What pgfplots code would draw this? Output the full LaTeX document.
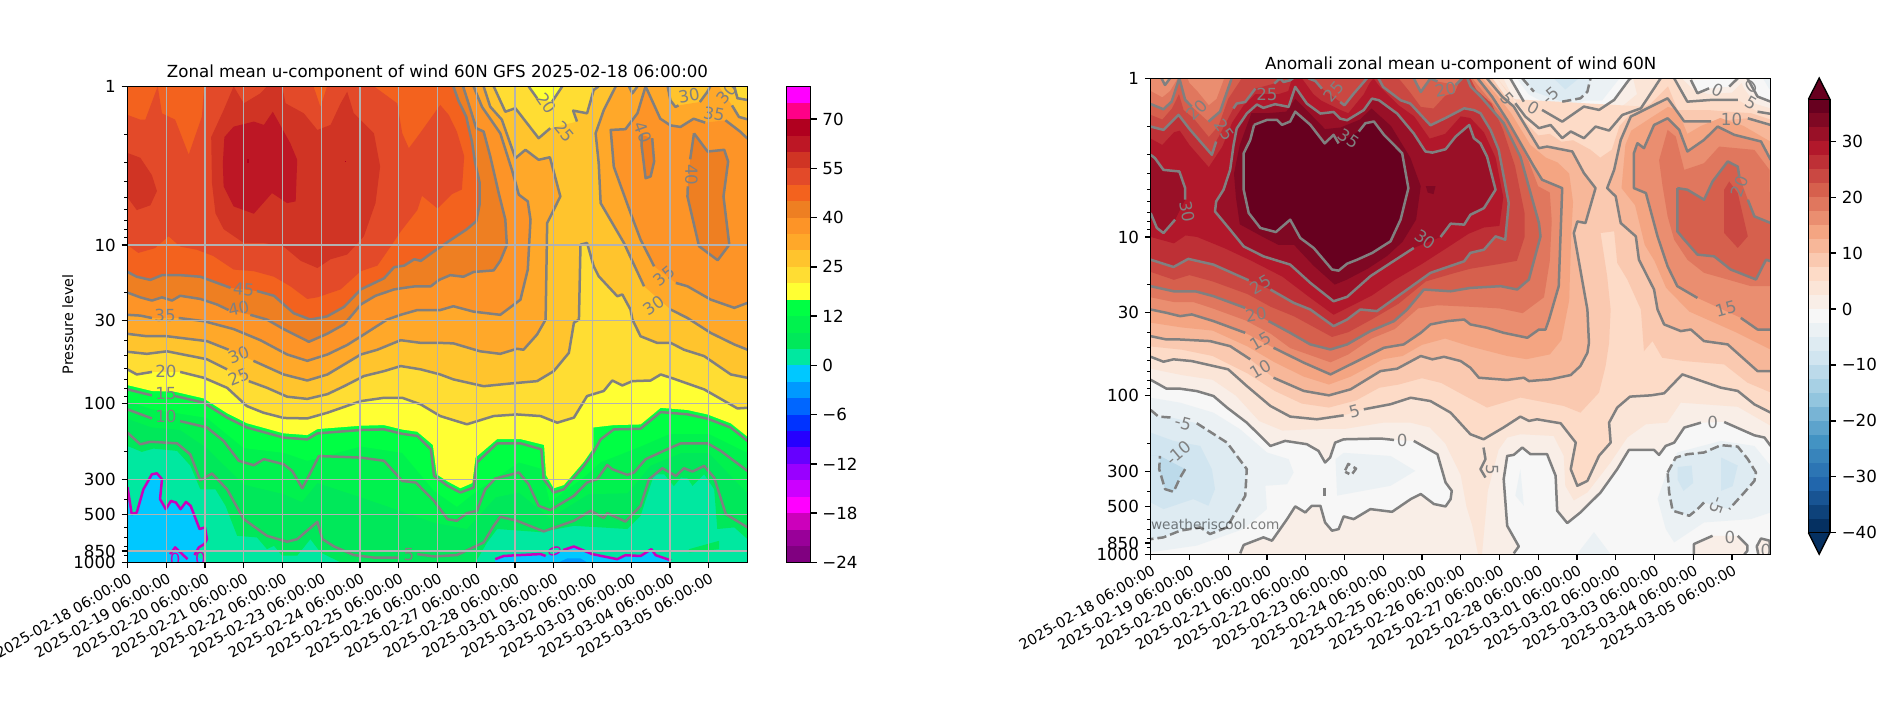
\documentclass[border=0pt]{standalone}
\usepackage{fontspec}
\setmainfont{DejaVu Sans}
\usepackage{pgfplots}
\pgfplotsset{compat=1.18}

% left colour bar, bottom to top
\definecolor{a0}{HTML}{800080}\definecolor{a1}{HTML}{990099}\definecolor{a2}{HTML}{CC00BB}
\definecolor{a3}{HTML}{FF00FF}\definecolor{a4}{HTML}{CC00FF}\definecolor{a5}{HTML}{9900FF}
\definecolor{a6}{HTML}{6600FF}\definecolor{a7}{HTML}{2600FF}\definecolor{a8}{HTML}{0033FF}
\definecolor{a9}{HTML}{0066FF}\definecolor{a10}{HTML}{0099FF}\definecolor{a11}{HTML}{00C8FF}
\definecolor{a12}{HTML}{00E8A0}\definecolor{a13}{HTML}{00E85A}\definecolor{a14}{HTML}{00F24E}
\definecolor{a15}{HTML}{00FF44}\definecolor{a16}{HTML}{FFFF33}\definecolor{a17}{HTML}{FFDD33}
\definecolor{a18}{HTML}{FFC42D}\definecolor{a19}{HTML}{FFA829}\definecolor{a20}{HTML}{FD9427}
\definecolor{a21}{HTML}{EE7F22}\definecolor{a22}{HTML}{F3621E}\definecolor{a23}{HTML}{E34A29}
\definecolor{a24}{HTML}{D03424}\definecolor{a25}{HTML}{BD1725}\definecolor{a26}{HTML}{B0001F}
\definecolor{a27}{HTML}{FF0088}\definecolor{a28}{HTML}{FF00FF}
% right colour bar, bottom to top
\definecolor{r0}{HTML}{053061}\definecolor{r1}{HTML}{0E427A}\definecolor{r2}{HTML}{185493}
\definecolor{r3}{HTML}{2166AC}\definecolor{r4}{HTML}{2C75B4}\definecolor{r5}{HTML}{3884BB}
\definecolor{r6}{HTML}{4393C3}\definecolor{r7}{HTML}{5DA3CC}\definecolor{r8}{HTML}{78B4D5}
\definecolor{r9}{HTML}{92C5DE}\definecolor{r10}{HTML}{A7D0E4}\definecolor{r11}{HTML}{BCDAEA}
\definecolor{r12}{HTML}{D1E5F0}\definecolor{r13}{HTML}{DEEBF2}\definecolor{r14}{HTML}{EBF1F4}
\definecolor{r15}{HTML}{F7F7F7}\definecolor{r16}{HTML}{F9EEE7}\definecolor{r17}{HTML}{FBE5D7}
\definecolor{r18}{HTML}{FDDBC7}\definecolor{r19}{HTML}{FAC9B0}\definecolor{r20}{HTML}{F7B799}
\definecolor{r21}{HTML}{F4A582}\definecolor{r22}{HTML}{EA8E70}\definecolor{r23}{HTML}{E0775E}
\definecolor{r24}{HTML}{D6604D}\definecolor{r25}{HTML}{CA4842}\definecolor{r26}{HTML}{BE3036}
\definecolor{r27}{HTML}{B2182B}\definecolor{r28}{HTML}{991027}\definecolor{r29}{HTML}{7F0823}
\definecolor{r30}{HTML}{67001F}

\newcommand\pltx[2]{\addplot[#2] coordinates {#1};}
\newcommand\plt[2]{\expandafter\pltx\expandafter{#1}{#2}}
\newcommand\lb[4]{\node[font=\fontsize{10pt}{12pt}\selectfont,text=gray,inner sep=0pt,rotate=#3] at (axis cs:#1,#2) {#4};}
\newcommand\seg[3]{\addplot[fill=#3,draw=none] coordinates {(0,#1)(1,#1)(1,#2)(0,#2)};}

\pgfplotsset{
  fl/.style={fill=#1,draw=none,unbounded coords=discard,filter discard warning=false},
  cont/.style={draw=gray,line width=1.5pt,line join=round,unbounded coords=jump},
  neg/.style={cont,dash pattern=on 5.5pt off 2.4pt},
  mag/.style={draw=a2,line width=1.5pt,line join=round,unbounded coords=jump},
  panel/.style={
    scale only axis,width=372pt,height=285.6pt,
    xmin=0,xmax=16,ymin=0,ymax=3,y dir=reverse,axis on top,
    xtick={0,...,15},
    xticklabels={2025-02-18 06:00:00,2025-02-19 06:00:00,2025-02-20 06:00:00,2025-02-21 06:00:00,2025-02-22 06:00:00,2025-02-23 06:00:00,2025-02-24 06:00:00,2025-02-25 06:00:00,2025-02-26 06:00:00,2025-02-27 06:00:00,2025-02-28 06:00:00,2025-03-01 06:00:00,2025-03-02 06:00:00,2025-03-03 06:00:00,2025-03-04 06:00:00,2025-03-05 06:00:00},
    xticklabel style={font=\fontsize{8.7pt}{10pt}\selectfont,rotate=30,anchor=north east,inner sep=1pt,yshift=-1pt},
    % y is log10 of the pressure level
    ytick={0,1,1.477,2,2.477,2.699,2.929,3},
    yticklabels={1,10,30,100,300,500,850,1000},
    minor ytick={.301,.477,.602,.699,.778,.845,.903,.954,1.301,1.602,1.699,1.778,1.845,1.903,1.954,2.301,2.602,2.778,2.845,2.903,2.954},
    xtick pos=bottom,ytick pos=left,tick align=outside,
    major tick length=3.5pt,minor tick length=2pt,
    every tick/.append style={black,line width=.8pt},
    every minor tick/.append style={black,line width=.6pt},
    axis line style={line width=.8pt},
    title style={font=\fontsize{10pt}{12pt}\selectfont,inner sep=0pt,anchor=base,at={(0.5,1)},yshift=-1pt},
  },
  cbar/.style={
    scale only axis,xmin=0,xmax=1,xtick=\empty,axis on top,
    ytick pos=right,yticklabel pos=right,tick align=outside,
    major tick length=3.5pt,every tick/.append style={black,line width=.8pt},
    axis line style={line width=.8pt},
  },
}

% ---- left panel: level boundaries (day, log10 p)
\def\lcyanA{(0,2.527)(.11,2.696)(.24,2.686)(.41,2.54)(.63,2.445)(.76,2.439)(.89,2.476)(.84,2.602)(.99,2.665)(1.12,2.613)(1.25,2.623)(1.37,2.665)(1.51,2.619)(1.63,2.644)(1.86,2.79)(2.0,2.78)(2.05,2.854)(1.98,2.885)(1.84,2.906)(1.73,2.954)}
\def\lcyanB{(9.49,2.98)(9.71,2.96)(10.05,2.955)(10.66,2.948)(10.79,2.96)(0,nan)(11.24,2.923)(11.52,2.90)(11.69,2.917)(11.99,2.948)(12.64,2.98)(12.85,2.955)(13.24,2.96)(13.52,2.917)(13.63,2.955)(14.03,2.988)}
\def\lfour{(0,2.267)(.37,2.304)(.67,2.283)(1.28,2.298)(1.62,2.39)(1.88,2.54)(2.27,2.54)(2.53,2.644)(2.83,2.833)(3.34,2.843)(3.6,2.917)(3.78,2.896)(3.99,2.958)(4.38,2.958)(4.72,2.854)(4.98,2.938)(5.5,3)(8.98,3)(9.28,2.875)(9.54,2.79)(10.66,2.81)(11.52,2.77)(12.9,2.79)(13.24,2.707)(13.59,2.445)(13.85,2.445)(14.1,2.52)(14.28,2.466)(14.45,2.47)(14.58,2.518)(14.88,2.445)(15.14,2.54)(15.22,2.79)(15.66,2.78)(16,2.854)}
\def\leight{(0,2.095)(.63,2.15)(1.36,2.166)(2.05,2.28)(3.0,2.51)(4.03,2.57)(4.5,2.62)(4.9,2.50)(6.02,2.59)(7.09,2.68)(7.91,2.75)(8.76,2.79)(9.5,2.59)(10.1,2.56)(10.9,2.72)(11.9,2.57)(12.9,2.565)(13.5,2.39)(14.3,2.31)(15,2.31)(16,2.566)}
\def\ltwelve{(0,1.985)(.63,2.035)(2.05,2.09)(3.0,2.28)(4.03,2.31)(4.64,2.36)(6.02,2.27)(7.09,2.31)(7.91,2.55)(8.5,2.65)(9.02,2.55)(10.1,2.37)(10.68,2.41)(10.9,2.62)(11.8,2.46)(12.2,2.37)(13.24,2.27)(14.0,2.19)(15,2.19)(16,2.31)}
\def\lgreen{(0,1.883)(.63,1.92)(1.23,1.925)(1.97,1.967)(2.57,2.06)(3.08,2.123)(4.03,2.187)(4.64,2.198)(4.9,2.16)(6.02,2.139)(6.62,2.135)(7.09,2.163)(7.48,2.177)(7.88,2.26)(7.98,2.445)(8.26,2.49)(8.59,2.533)(8.9,2.5)(8.98,2.34)(9.54,2.223)(10.14,2.223)(10.75,2.26)(10.8,2.45)(11.0,2.533)(11.26,2.513)(11.78,2.365)(12.02,2.28)(12.02,2.15)(12.55,2.135)(13.24,2.131)(13.76,2.026)(14.45,2.04)(14.97,2.068)(15.57,2.124)(16,2.208)}
\def\lfive{(0,2.183)(.33,2.256)(.59,2.24)(1.28,2.25)(1.62,2.32)(1.88,2.483)(2.18,2.44)(2.57,2.54)(3.0,2.728)(3.6,2.833)(4.12,2.87)(4.38,2.854)(4.9,2.745)(5.03,2.854)(5.33,2.9)(5.84,2.954)(6.36,2.97)(7.0,2.97)(0,nan)(7.48,2.948)(7.91,2.963)(8.5,2.954)(9.19,2.875)(9.45,2.77)(9.62,2.713)(10.05,2.738)(10.74,2.805)(11.52,2.738)(11.95,2.675)(12.29,2.72)(12.38,2.69)(12.85,2.743)(13.24,2.644)(13.46,2.476)(13.8,2.407)(14.15,2.455)(14.36,2.407)(14.58,2.428)(14.88,2.392)(15.14,2.466)(15.44,2.696)(16,2.78)}
\def\lten{(0,2.036)(.63,2.093)(0,nan)(1.36,2.11)(2.05,2.15)(2.48,2.235)(2.87,2.36)(3.26,2.388)(3.52,2.35)(4.03,2.382)(4.25,2.424)(4.51,2.533)(4.68,2.455)(4.94,2.33)(6.02,2.34)(6.62,2.36)(7.09,2.487)(7.44,2.497)(7.91,2.613)(8.26,2.728)(8.5,2.738)(8.76,2.69)(9.02,2.675)(9.23,2.54)(9.49,2.472)(10.1,2.434)(10.35,2.508)(10.61,2.644)(10.91,2.671)(11.52,2.581)(11.86,2.497)(12.12,2.476)(12.38,2.386)(12.51,2.413)(12.9,2.449)(13.07,2.434)(13.37,2.35)(14.02,2.277)(14.28,2.25)(14.97,2.25)(15.31,2.298)(16,2.424)}
\def\lfifteen{(0,1.91)(.63,1.948)(0,nan)(1.23,1.952)(1.97,1.994)(2.57,2.088)(3.08,2.15)(4.03,2.214)(4.64,2.225)(4.9,2.187)(6.02,2.166)(6.62,2.162)(7.09,2.19)(7.48,2.204)(7.83,2.288)(7.91,2.455)(8.26,2.518)(8.59,2.56)(8.93,2.529)(9.02,2.37)(9.54,2.25)(10.14,2.25)(10.68,2.288)(10.74,2.476)(11.0,2.56)(11.26,2.54)(11.78,2.392)(12.02,2.309)(12.21,2.225)(12.55,2.162)(13.24,2.158)(13.76,2.053)(14.45,2.067)(14.97,2.095)(15.57,2.151)(16,2.235)}
\def\ltwenty{(0,1.784)(.24,1.816)(.63,1.80)(0,nan)(1.36,1.80)(1.97,1.837)(2.57,1.90)(3.08,2.015)(3.51,2.057)(4.03,2.09)(4.64,2.093)(5.16,2.057)(6.02,1.984)(6.62,1.963)(7.09,1.963)(7.57,2.005)(8.07,2.078)(8.76,2.13)(9.45,2.078)(10.05,2.068)(10.66,2.078)(11.09,2.12)(11.52,2.088)(11.86,1.952)(12.29,1.92)(12.51,1.854)(12.77,1.885)(13.03,1.858)(13.5,1.854)(13.76,1.816)(14.1,1.843)(14.88,1.91)(15.74,2.03)(16,2.026)}
\def\ltwentytop{(10.35,0)(10.57,.075)(0,nan)(10.96,.096)(11.22,0)}
\def\ltf{(0,1.673)(.5,1.686)(1.02,1.67)(2.05,1.72)(2.57,1.784)(0,nan)(3.13,1.858)(3.6,1.90)(4.12,1.956)(4.64,1.97)(5.16,1.94)(5.59,1.89)(6.1,1.826)(6.62,1.795)(7.05,1.763)(7.57,1.784)(8.07,1.816)(8.41,1.847)(9.19,1.89)(9.88,1.873)(10.57,1.858)(11.0,1.795)(11.39,1.68)(11.52,1.49)(11.65,1.47)(11.69,.998)(11.86,.987)(12.03,1.134)(12.16,1.197)(12.64,1.323)(12.77,1.312)(12.98,1.407)(13.03,1.47)(13.24,1.575)(13.67,1.617)(14.02,1.617)(14.36,1.66)(14.88,1.70)(15.57,1.816)(16,1.837)}
\def\ltftop{(9.45,0)(9.75,.16)(10.01,.138)(10.61,.327)(10.91,.264)(0,nan)(11.6,.222)(11.5,.153)(11.86,.17)(12.03,.023)(12.16,0)}
\def\ltfcorner{(15.66,0)(15.74,.075)(16,.086)}
\def\lthirty{(0,1.56)(.5,1.575)(1.02,1.575)(2.05,1.606)(2.61,1.66)(0,nan)(3.25,1.73)(4.03,1.816)(4.64,1.854)(5.16,1.816)(5.59,1.753)(6.02,1.69)(6.45,1.66)(7.05,1.60)(7.57,1.617)(8.07,1.617)(8.41,1.62)(9.1,1.67)(9.62,1.686)(10.05,1.654)(10.22,1.66)(10.57,1.564)(10.79,1.47)(10.83,.862)(11.17,.694)(10.9,.447)(10.61,.463)(10.27,.40)(10.01,.453)(9.66,.21)(9.36,.128)(9.19,0)}
\def\lthirtyr{(16,1.66)(15.66,1.627)(15.05,1.554)(14.45,1.46)(14.02,1.407)(0,nan)(13.33,1.26)(12.81,.987)(12.21,.736)(12.16,.484)(12.08,.296)(12.29,.15)(12.6,0)}
\def\lthirtytopA{(12.94,0)(13.03,.044)(13.16,0)}
\def\lthirtytopB{(13.94,0)(14.01,.088)(14.14,.13)(14.22,.12)(0,nan)(14.77,.099)(14.96,.036)(15.04,0)}
\def\lthirtytopC{(15.26,0)(0,nan)(15.6,.12)(15.78,.193)(16,.208)}
\def\ltfv{(0,1.44)(.33,1.445)(.63,1.46)(0,nan)(1.32,1.46)(1.97,1.48)(2.74,1.53)(3.43,1.60)(4.12,1.69)(4.64,1.73)(5.16,1.69)(5.67,1.63)(6.1,1.564)(6.7,1.47)(7.05,1.44)(7.48,1.41)(7.91,1.41)(8.07,1.41)(8.41,1.386)(8.93,1.42)(9.62,1.44)(10.14,1.345)(10.33,1.155)(10.4,.84)(10.33,.725)(10.1,.683)(9.92,.526)(9.62,.296)(9.15,.13)(8.93,0)}
\def\ltfvr{(16,.33)(15.82,.287)(15.43,.214)(0,nan)(14.91,.229)(14.61,.204)(14.27,.256)(14.01,.246)(13.75,.204)(13.37,0)(13.16,.17)(12.85,.27)(12.47,.275)(12.55,.507)(12.98,.797)(13.24,.966)(13.59,1.134)(0,nan)(14.15,1.239)(14.45,1.26)(15.05,1.344)(15.66,1.396)(16,1.365)}
\def\lforty{(0,1.30)(.33,1.33)(.63,1.35)(.89,1.33)(1.15,1.35)(1.36,1.32)(1.88,1.34)(2.31,1.375)(2.61,1.41)(0,nan)(3.17,1.44)(3.6,1.47)(4.03,1.53)(4.68,1.61)(5.15,1.56)(5.59,1.50)(5.8,1.44)(6.02,1.375)(6.4,1.32)(6.88,1.28)(7.14,1.27)(7.44,1.26)(7.83,1.26)(8.04,1.22)(8.33,1.19)(8.67,1.20)(8.93,1.17)(9.45,1.16)(9.62,1.10)(9.79,1.0)(9.75,.84)(9.58,.673)(9.36,.44)(9.19,.285)(9.0,.264)(8.8,.107)(8.66,0)}
\def\lfortyA{(13.27,.379)(13.27,.306)(0,nan)(13.54,.327)(13.59,.474)(13.5,.568)(13.37,.579)(13.27,.379)}
\def\lfortyB{(14.62,.296)(14.97,.411)(15.4,.4)(15.5,.474)(15.38,.694)(15.53,.998)(15.23,1.096)(14.75,1.008)(14.45,.694)(14.46,.63)(0,nan)(14.52,.46)(14.62,.296)}
\def\lfortyfive{(0,1.17)(.24,1.20)(.59,1.22)(.89,1.19)(1.36,1.19)(1.88,1.20)(2.66,1.27)(0,nan)(3.34,1.29)(3.78,1.32)(4.29,1.43)(4.72,1.47)(5.15,1.45)(5.59,1.39)(6.02,1.28)(6.62,1.21)(6.88,1.14)(7.14,1.13)(7.40,1.09)(7.57,1.10)(7.91,1.04)(8.33,.97)(8.76,.90)(9.0,.85)(9.09,.74)(9.09,.61)(8.97,.48)(8.89,.35)(8.74,.19)(8.54,.09)(8.41,0)}
\def\lfifty{(0,1.0)(.28,1.05)(.71,1.02)(1.06,.945)(1.36,1.01)(1.79,1.03)(2.22,1.07)(2.74,1.155)(3.26,1.165)(3.78,1.2)(4.2,1.26)(4.64,1.34)(4.9,1.33)(5.5,1.28)(6.02,1.165)(6.45,1.13)(6.79,1.01)(7.05,.915)(7.48,.78)(7.6,.69)(8.0,.77)(8.37,.68)(8.63,.65)(8.69,.44)(8.5,.285)(8.29,.18)(8.07,.117)(7.55,.295)(7.26,.39)(7.09,.295)(6.96,.107)(6.36,0)(5.15,0)(4.98,.13)(4.8,0)(1.98,0)(1.92,.19)(1.58,.43)(1.23,.21)(.89,.17)(.78,0)(.46,.21)(.33,.21)(0,.18)}
\def\lfiftyfive{(2.16,.32)(2.48,.15)(2.74,0)(3.0,.107)(3.43,.044)(3.6,0)(3.99,0)(4.08,.107)(4.55,.17)(4.9,.275)(5.24,.243)(5.5,.107)(5.67,.034)(5.84,.17)(6.36,.296)(6.52,.505)(6.4,.736)(6.1,.945)(5.67,1.06)(5.24,1.09)(4.9,1.145)(4.47,1.10)(4.03,1.01)(3.52,.987)(3.0,.987)(2.48,.90)(2.27,.80)(2.18,.61)}
\def\lfiftyfiveb{(0,.42)(.33,.45)(.63,.56)(.76,.66)(.59,.75)(.24,.78)(0,.70)}
\def\lsixty{(2.5,.32)(2.74,.254)(3.26,.222)(3.52,.243)(3.75,.16)(4.2,.358)(4.38,.463)(4.34,.725)(4.12,.736)(3.73,.673)(3.26,.803)(2.74,.757)(2.48,.63)(2.46,.484)}

% ---- right panel
\def\rzeroL{(0,1.9)(.41,1.956)(.76,1.956)(1.19,1.971)(1.62,2.002)(1.97,2.075)(2.48,2.17)(2.83,2.254)(3.09,2.317)(3.47,2.285)(4.03,2.306)(4.33,2.348)(4.5,2.421)(4.63,2.39)(4.76,2.296)(4.98,2.275)(5.93,2.27)(6.28,2.279)(0,nan)(6.79,2.285)(7.4,2.369)(7.61,2.547)(7.77,2.6)(7.74,2.652)(7.61,2.698)(7.31,2.683)(6.97,2.62)(6.71,2.652)(6.23,2.732)(5.67,2.715)(5.24,2.778)(4.98,2.761)(4.85,2.841)(4.68,2.851)(4.5,2.799)(4.38,2.694)(4.16,2.694)(3.99,2.736)(3.73,2.698)(3.52,2.778)(3.13,2.914)(2.91,2.893)(2.4,2.941)(2.31,2.994)}
\def\rzeroR{(9.37,2.994)(9.5,2.95)(9.2,2.82)(9.11,2.526)(9.2,2.38)(9.37,2.373)(9.59,2.327)(9.8,2.369)(10.23,2.369)(10.45,2.505)(10.49,2.725)(10.75,2.803)(11.09,2.736)(11.61,2.61)(12.04,2.463)(12.34,2.342)(12.99,2.342)(13.12,2.373)(13.29,2.317)(13.51,2.296)(13.77,2.201)(14.2,2.17)(0,nan)(14.8,2.166)(15.58,2.25)(15.84,2.264)(16,2.317)}
\def\rzeroT{(9.28,0)(9.63,.147)(0,nan)(10.1,.199)(10.62,.273)(11.18,.178)(11.57,.199)(11.96,.136)(12.34,.01)(12.39,0)}
\def\rzeroTa{(13.94,.01)(14.11,.094)(14.41,.063)(0,nan)(14.93,.052)(15.15,0)}
\def\rzeroTb{(15.4,0)(15.66,.115)(16,.147)}
\def\rzeroIa{(14.02,3)(14.02,2.935)(14.5,2.883)(0,nan)(15.15,2.883)(15.4,2.945)(15.4,2.977)(15.32,3)}
\def\rzeroIb{(15.68,3)(15.64,2.95)(15.75,2.9)(15.97,2.914)(16,3)}
\def\rfive{(0,1.755)(.33,1.786)(.59,1.771)(1.06,1.782)(2.0,1.834)(2.48,1.939)(3.09,2.065)(3.6,2.132)(4.29,2.149)(4.98,2.124)(0,nan)(5.5,2.086)(6.19,2.054)(6.71,2.013)(7.22,2.034)(7.74,2.107)(8.25,2.243)(8.59,2.275)(9.11,2.2)(9.54,2.132)(9.76,2.159)(9.97,2.149)(10.58,2.174)(10.97,2.296)(10.84,2.463)(11.01,2.568)(11.27,2.537)(11.57,2.379)(11.87,2.296)(11.83,2.17)(12.04,2.075)(12.37,2.006)(12.91,1.998)(13.25,1.985)(13.72,1.866)(14.72,1.95)(15.15,1.97)(15.58,2.055)(16,2.107)(0,nan)(16,.224)(15.66,.21)(0,nan)(15.15,.136)(14.46,.136)(13.85,.147)(13.51,0)(0,nan)(13.16,0)(12.65,.189)(12.17,.231)(11.83,.329)(11.48,.304)(11.18,.377)(10.84,.335)(10.62,.377)(10.32,.294)(10.02,.314)(9.67,.241)(9.41,.157)(0,nan)(8.94,0)}
\def\rfivelone{(8.59,2.327)(8.64,2.4)(8.51,2.463)(8.64,2.516)}
\def\rten{(0,1.625)(.41,1.646)(.76,1.646)(1.53,1.656)(2.05,1.688)(2.57,1.771)(0,nan)(3.17,1.887)(3.95,1.97)(4.6,1.998)(5.16,1.96)(5.93,1.845)(6.36,1.83)(6.97,1.75)(7.27,1.771)(7.57,1.755)(8.0,1.782)(8.25,1.824)(8.47,1.887)(9.2,1.901)(9.63,1.887)(9.76,1.908)(10.32,1.897)(10.84,1.87)(11.09,1.813)(11.27,1.73)(11.31,1.667)(11.27,1.457)(10.92,.975)(11.01,.902)(11.22,.912)(11.48,.692)(11.18,.597)(10.88,.461)(10.23,.43)(10.02,.44)(9.37,.178)(9.07,.115)(8.68,0)}
\def\rtenr{(16,.294)(15.41,.252)(0,nan)(14.46,.272)(13.77,.272)(13.34,.126)(13.08,.157)(12.39,.241)(12.13,.388)(11.96,.577)(11.78,.692)(12.0,.744)(12.13,.912)(12.52,.996)(12.6,1.143)(12.99,1.331)(13.08,1.457)(13.25,1.551)(13.68,1.593)(13.94,1.583)(14.28,1.656)(14.89,1.677)(15.66,1.845)(16,1.845)}
\def\rfifteen{(0,1.457)(.41,1.478)(.76,1.499)(1.06,1.488)(1.62,1.53)(2.44,1.604)(0,nan)(3.17,1.698)(3.95,1.792)(4.64,1.866)(5.16,1.803)(6.02,1.698)(6.53,1.677)(6.97,1.604)(7.22,1.551)(7.66,1.53)(8.09,1.52)(8.25,1.551)(8.68,1.572)(9.11,1.604)(9.72,1.635)(10.02,1.583)(10.19,1.583)(10.28,1.52)(10.53,1.31)(10.62,.692)(10.1,.639)(9.89,.556)(9.2,.262)(8.81,.115)(8.44,0)}
\def\rfifteentop{(.28,0)(.37,.042)(.5,0)}
\def\rfifteenr{(16,.514)(15.75,.398)(15.06,.356)(14.63,.304)(14.28,.388)(13.85,.461)(13.64,.325)(13.34,.252)(12.99,.294)(12.73,.44)(12.56,.409)(12.47,.472)(12.47,.692)(12.78,.723)(13.08,.996)(13.34,1.185)(13.59,1.31)(14.11,1.384)(0,nan)(15.23,1.51)(15.66,1.583)(16,1.583)}
\def\rtwenty{(0,.162)(.33,.195)(.54,.147)(.74,0)(.89,.136)(1.06,.178)(0,nan)(1.49,.273)(1.79,.21)(2.09,0)(0,nan)(6.79,0)(6.97,.086)(7.22,0)(7.4,.02)(0,nan)(7.87,.042)(8.04,0)(0,nan)(8.17,0)(8.26,.052)(8.52,.115)(9.11,.283)(9.54,.493)(10.02,.912)(10.06,.996)(9.76,1.268)(9.46,1.331)(9.03,1.31)(8.25,1.321)(7.74,1.342)(7.05,1.331)(6.62,1.457)(6.28,1.53)(5.67,1.593)(5.07,1.677)(4.64,1.709)(4.12,1.677)(3.6,1.604)(3.04,1.53)(0,nan)(2.44,1.447)(1.62,1.373)(1.15,1.342)(.59,1.342)(0,1.31)}
\def\rtwentyr{(13.59,.692)(13.85,.702)(14.28,.765)(14.5,.65)(14.89,.524)(15.15,.556)(15.19,.618)(0,nan)(15.41,.765)(15.58,.87)(16,.912)(0,nan)(16,1.153)(15.88,1.143)(15.62,1.268)(14.97,1.205)(14.54,1.122)(14.11,1.111)(13.77,1.017)(13.59,.964)(13.59,.692)}
\def\rtf{(0,.304)(.33,.325)(.72,.23)(1.02,.325)(1.58,.482)(1.69,.398)(0,nan)(2.135,.19)(2.22,.159)(2.44,.149)(2.7,.065)(0,nan)(3.19,.033)(3.34,0)(3.43,.023)(3.6,.012)(3.67,0)(0,nan)(4.07,0)(4.25,.017)(4.42,.065)(0,nan)(4.89,.149)(5.0,.17)(5.24,.096)(5.5,.023)(5.58,0)(0,nan)(5.88,0)(6.0,.054)(6.45,.138)(6.7,.159)(7.22,.296)(7.61,.25)(8.09,.189)(8.34,.2)(8.51,.22)(8.77,.325)(8.98,.45)(9.24,.786)(9.15,1.017)(8.9,.996)(8.6,1.08)(8.25,1.10)(8.09,1.153)(7.22,1.226)(6.62,1.331)(5.84,1.467)(5.41,1.457)(5.07,1.52)(4.72,1.562)(4.12,1.457)(3.69,1.415)(3.09,1.331)(0,nan)(2.53,1.273)(1.62,1.174)(.97,1.138)(.59,1.189)(0,1.143)}
\def\rthirty{(2.22,.316)(2.48,.222)(2.74,.165)(2.91,.186)(3.21,.163)(3.56,.18)(3.73,.054)(4.03,.159)(4.38,.222)(4.72,.212)(4.89,.254)(5.07,.264)(5.5,.2)(5.71,.128)(5.89,.138)(6.36,.222)(6.79,.348)(7.09,.461)(7.27,.468)(7.61,.447)(7.87,.367)(8.22,.294)(8.34,.377)(8.51,.41)(8.68,.493)(8.9,.702)(8.6,.818)(8.25,.86)(8.09,.922)(7.74,.916)(7.48,1.0)(0,nan)(6.79,1.069)(6.19,1.164)(5.67,1.247)(5.07,1.377)(4.72,1.405)(4.12,1.289)(3.6,1.174)(2.91,1.122)(2.4,1.059)(2.05,.954)(1.66,.839)(1.69,.776)(1.88,.702)(2.05,.577)(2.14,.419)(2.22,.316)}
\def\rthirtyb{(0,.482)(.11,.503)(.33,.577)(.74,.587)(.89,.692)(.89,.765)(0,nan)(.63,.891)(.33,.975)(.16,.943)(0,.849)}
\def\rtfv{(2.67,.293)(3.0,.262)(3.26,.262)(3.39,.293)(3.6,.272)(3.73,.21)(4.12,.293)(4.49,.41)(4.72,.356)(4.85,.41)(0,nan)(5.37,.335)(5.54,.283)(5.76,.272)(6.02,.356)(6.49,.472)(6.65,.692)(6.45,.89)(6.19,1.027)(5.72,1.10)(5.33,1.143)(5.07,1.168)(4.85,1.212)(4.68,1.205)(4.21,1.07)(3.86,1.006)(3.6,.891)(3.23,.969)(2.83,.943)(2.53,.849)(2.4,.702)(2.4,.472)(2.57,.388)(2.67,.293)}
\def\rnegT{(9.59,0)(9.89,.084)(0,nan)(10.62,.147)(11.09,.126)(11.27,.084)(11.35,0)}
\def\rnegL{(0,2.09)(.2,2.132)(.54,2.138)(0,nan)(1.19,2.174)(1.97,2.296)(2.48,2.463)(2.44,2.631)(2.14,2.757)(1.97,2.83)(1.53,2.872)(1.28,2.83)(.76,2.851)(.33,2.893)(0,2.904)}
\def\rnegR{(13.34,2.484)(13.55,2.39)(13.85,2.369)(14.28,2.358)(14.72,2.312)(15.15,2.321)(15.41,2.4)(15.62,2.484)(15.58,2.537)(15.32,2.61)(14.93,2.715)(0,nan)(14.28,2.673)(14.11,2.715)(13.9,2.757)(13.47,2.725)(13.38,2.61)(13.34,2.484)}
\def\rnegC{(5.02,2.47)(5.1,2.43)(5.3,2.46)(5.18,2.5)(5.02,2.48)}
\def\rtenneg{(.24,2.38)(0,nan)(.89,2.463)(.76,2.516)(.59,2.606)(.37,2.589)(.22,2.463)(.24,2.38)}

\begin{document}
\begin{tikzpicture}
\useasboundingbox (0,0) rectangle (1128.6pt,422.4pt);

\begin{axis}[panel,at={(76.5pt,85pt)},anchor=south west,
  title={Zonal mean u-component of wind 60N GFS 2025-02-18 06:00:00},
  ylabel={Pressure level},ylabel style={font=\fontsize{8.6pt}{10pt}\selectfont,at={(axis description cs:0,0.5)},anchor=south,yshift=29pt},
  grid=major,major grid style={color=black!30,line width=.8pt}]
\addplot[fill=a12,draw=none] coordinates {(0,0)(16,0)(16,3)(0,3)};
\plt{\lfour (16,0)(0,0)}{fl=a13}
\addplot[fill=a13,draw=none] coordinates {(14.49,2.917)(15.27,2.864)(15.27,2.917)(14.49,2.938)};
\plt{\lcyanA (2.05,3)(0,3)}{fl=a11}
\plt{\lcyanB (14.03,3)(9.49,3)}{fl=a11}
\addplot[fill=a10,draw=none] coordinates {(11.13,3)(11.35,2.975)(11.69,2.975)(11.86,3)};
\plt{\leight (16,0)(0,0)}{fl=a14}
\plt{\ltwelve (16,0)(0,0)}{fl=a15}
\plt{\lgreen (16,0)(0,0)}{fl=a16}
\plt{\ltwenty (16,0)(0,0)}{fl=a17}
\plt{\ltf (16,0)(0,0)}{fl=a18}
\plt{\ltftop}{fl=a17}
\plt{\ltfcorner (16,0)}{fl=a17}
\plt{\ltwentytop}{fl=a16}
\plt{\lthirty (0,0)}{fl=a19}
\plt{\lthirtyr \lthirtytopA \lthirtytopB \lthirtytopC}{fl=a19}
\plt{\ltfv (0,0)}{fl=a20}
\plt{\ltfvr}{fl=a20}
\plt{\lforty (0,0)}{fl=a21}
\plt{\lfortyA}{fl=a21}
\plt{\lfortyB}{fl=a21}
\plt{\lfortyfive (0,0)}{fl=a22}
\plt{\lfifty}{fl=a23}
\plt{\lfiftyfive}{fl=a24}
\plt{\lfiftyfiveb}{fl=a24}
\plt{\lsixty}{fl=a25}
\addplot[fill=a26,draw=none] coordinates {(3.09,.455)(3.13,.455)(3.13,.485)(3.09,.485)};
\addplot[fill=a26,draw=none] coordinates {(5.61,.468)(5.65,.468)(5.65,.48)(5.61,.48)};
% contours
\plt{\lfive}{cont}\plt{\lten}{cont}\plt{\lfifteen}{cont}\plt{\ltwenty}{cont}\plt{\ltwentytop}{cont}
\plt{\ltf}{cont}\plt{\ltftop}{cont}\plt{\ltfcorner}{cont}
\plt{\lthirty}{cont}\plt{\lthirtyr}{cont}\plt{\lthirtytopA}{cont}\plt{\lthirtytopB}{cont}\plt{\lthirtytopC}{cont}
\plt{\ltfv}{cont}\plt{\ltfvr}{cont}\plt{\lforty}{cont}\plt{\lfortyA}{cont}\plt{\lfortyB}{cont}\plt{\lfortyfive}{cont}
\plt{\lcyanA}{mag}\plt{\lcyanB}{mag}
\addplot[mag] coordinates {(1.1,2.948)(1.23,2.906)(1.55,2.98)};
% contour labels
\lb{3.0}{1.28}{-5}{45}\lb{2.87}{1.40}{12}{40}\lb{.97}{1.445}{0}{35}\lb{2.87}{1.69}{22}{30}\lb{2.87}{1.83}{22}{25}
\lb{.99}{1.795}{0}{20}\lb{.99}{1.935}{0}{15}\lb{.99}{2.078}{0}{10}\lb{7.26}{2.954}{0}{5}
\lb{10.81}{.107}{-55}{20}\lb{11.28}{.285}{-50}{25}\lb{13.3}{.29}{-70}{40}\lb{14.55}{.558}{-90}{40}
\lb{14.49}{.061}{10}{30}\lb{15.47}{.044}{50}{30}\lb{15.14}{.174}{-10}{35}\lb{13.85}{1.197}{40}{35}\lb{13.59}{1.382}{35}{30}
\node[font=\fontsize{10pt}{12pt}\selectfont,text=a2,inner sep=0pt] at (axis cs:1.23,2.98) {0};
\node[font=\fontsize{10pt}{12pt}\selectfont,text=a2,inner sep=0pt] at (axis cs:1.88,2.975) {0};
\node[font=\fontsize{10pt}{12pt}\selectfont,text=a2,inner sep=0pt,rotate=-70] at (axis cs:11.04,2.93) {0};
\end{axis}

\begin{axis}[cbar,at={(472pt,85pt)},anchor=south west,width=14.4pt,height=285.6pt,ymin=0,ymax=29,
  ytick={0,3,6,9,12,15,18,21,24,27},yticklabels={−24,−18,−12,−6,0,12,25,40,55,70}]
\seg{0}{1}{a0}\seg{1}{2}{a1}\seg{2}{3}{a2}\seg{3}{4}{a3}\seg{4}{5}{a4}\seg{5}{6}{a5}\seg{6}{7}{a6}\seg{7}{8}{a7}
\seg{8}{9}{a8}\seg{9}{10}{a9}\seg{10}{11}{a10}\seg{11}{12}{a11}\seg{12}{13}{a12}\seg{13}{14}{a13}\seg{14}{15}{a14}
\seg{15}{16}{a15}\seg{16}{17}{a16}\seg{17}{18}{a17}\seg{18}{19}{a18}\seg{19}{20}{a19}\seg{20}{21}{a20}\seg{21}{22}{a21}
\seg{22}{23}{a22}\seg{23}{24}{a23}\seg{24}{25}{a24}\seg{25}{26}{a25}\seg{26}{27}{a26}\seg{27}{28}{a27}\seg{28}{29}{a28}
\end{axis}

\begin{axis}[panel,at={(690.4pt,89.8pt)},anchor=south west,
  title={Anomali zonal mean u-component of wind 60N}]
\addplot[fill=r16,draw=none] coordinates {(0,0)(16,0)(16,3)(0,3)};
\plt{\rzeroL (0,3)}{fl=r15}
\plt{\rzeroR (16,3)(9.37,3)}{fl=r15}
\plt{\rzeroT}{fl=r15}
\plt{\rzeroTa}{fl=r15}
\plt{\rzeroTb (16,0)}{fl=r15}
\plt{\rzeroIa}{fl=r16}
\plt{\rzeroIb}{fl=r16}
% blue patches
\addplot[fill=r14,draw=none] coordinates {(0,2.013)(.76,2.044)(1.62,2.107)(2.31,2.212)(3.0,2.358)(3.56,2.4)(3.69,2.484)(3.52,2.558)(2.96,2.568)(3.0,2.715)(2.4,2.84)(1.19,2.945)(0,2.987)};
\addplot[fill=r14,draw=none] coordinates {(4.77,2.4)(4.98,2.36)(6.19,2.38)(6.83,2.474)(6.19,2.568)(4.81,2.63)};
\addplot[fill=r14,draw=none] coordinates {(9.41,2.63)(9.54,2.463)(9.63,2.694)};
\addplot[fill=r14,draw=none] coordinates {(11.0,3)(11.44,2.86)(11.87,3)};
\addplot[fill=r14,draw=none] coordinates {(13.08,2.65)(13.29,2.505)(13.59,2.358)(14.72,2.285)(15.58,2.317)(16,2.442)(16,2.736)(15.49,2.778)(14.28,2.799)(13.51,2.925)(13.29,2.84)};
\addplot[fill=r14,draw=none] coordinates {(9.45,0)(9.75,.1)(10.62,.215)(11.2,.14)(11.65,.14)(12.1,0)};
\addplot[fill=r14,draw=none] coordinates {(15.8,0)(15.97,.07)(16,.07)(16,0)};
\plt{\rnegL}{fl=r13}
\plt{\rnegR}{fl=r13}
\plt{\rnegT}{fl=r13}
\addplot[fill=r12,draw=none] coordinates {(0,2.233)(.59,2.285)(1.28,2.317)(1.58,2.463)(1.66,2.589)(1.49,2.694)(1.1,2.652)(.33,2.715)(0,2.673)};
\addplot[fill=r12,draw=none] coordinates {(13.6,2.45)(13.96,2.44)(14.0,2.55)(13.75,2.6)(13.6,2.53)};
\addplot[fill=r12,draw=none] coordinates {(14.72,2.39)(15.15,2.44)(15.02,2.57)(14.72,2.6)};
\addplot[fill=r12,draw=none] coordinates {(10.4,0)(10.7,.07)(11.05,0)};
\plt{\rtenneg (0,2.38)}{fl=r11}
% warm levels, lowest first
\addplot[fill=r17,draw=none] coordinates {(0,1.83)(.8,1.87)(1.6,1.9)(2.2,2.0)(2.8,2.16)(3.4,2.22)(4.3,2.21)(5,2.21)(6,2.17)(6.7,2.17)(7.2,2.2)(7.6,2.3)(8.0,2.5)(8.15,2.7)(8.3,2.82)(8.45,3)(8.55,3)(8.7,2.6)(8.98,2.34)(9.2,2.264)(9.54,2.243)(10.4,2.254)(10.66,2.38)(10.7,2.568)(10.92,2.66)(11.27,2.61)(11.87,2.42)(12.3,2.264)(12.78,2.18)(13.33,2.17)(13.68,2.044)(15.15,2.07)(16,2.19)(16,.19)(15.6,.16)(15.3,.06)(15.25,.03)(15.0,.09)(14.4,.1)(14.0,.07)(13.7,0)(12.45,0)(12.55,.1)(12.1,.19)(11.6,.25)(11.2,.28)(10.6,.33)(10.1,.26)(9.6,.2)(9.3,.1)(9.1,0)(0,0)};
\plt{\rfive (16,2.107)(16,.224) (0,0)}{fl=r18}
\addplot[fill=r19,draw=none] coordinates {(0,1.69)(.8,1.71)(1.6,1.75)(2.5,1.86)(3.2,1.97)(3.9,2.05)(4.6,2.075)(5.3,2.03)(5.9,1.95)(6.4,1.93)(7,1.89)(7.5,1.92)(8.1,2.0)(8.68,2.075)(9.54,2.012)(10.66,2.065)(11.09,2.107)(11.57,1.981)(11.74,1.813)(11.83,1.667)(11.87,1.457)(11.78,1.247)(11.61,.975)(11.96,.964)(12.04,1.163)(12.3,1.268)(12.65,1.457)(12.73,1.719)(12.95,1.656)(13.2,1.761)(13.77,1.782)(14.8,1.803)(15.4,1.918)(16,1.98)(16,.26)(15.5,.22)(14.9,.21)(14.4,.2)(13.85,.2)(13.6,.2)(13.35,.05)(12.9,.16)(12.4,.22)(12.1,.3)(11.9,.45)(11.6,.5)(11.35,.45)(10.9,.39)(10.6,.4)(10.3,.35)(10.0,.36)(9.65,.27)(9.2,.13)(8.82,0)(0,0)};
\plt{\rten (0,0)}{fl=r20}
\plt{\rtenr}{fl=r20}
\addplot[fill=r21,draw=none] coordinates {(0,1.54)(.8,1.57)(1.6,1.59)(2.5,1.69)(3.2,1.79)(3.95,1.88)(4.6,1.93)(5.16,1.88)(6,1.77)(6.5,1.75)(7,1.68)(7.6,1.64)(8.25,1.69)(9.2,1.75)(9.7,1.77)(10.3,1.74)(10.6,1.65)(10.8,1.4)(10.85,1.0)(10.9,.78)(10.8,.6)(10.5,.53)(10.2,.5)(9.8,.42)(9.3,.22)(8.95,.11)(8.55,0)(0,0)};
\addplot[fill=r21,draw=none] coordinates {(16,.4)(15.3,.3)(14.7,.25)(14.2,.3)(13.85,.35)(13.6,.2)(13.35,.18)(12.9,.25)(12.4,.33)(12.25,.42)(12.15,.692)(12.5,.8)(12.75,1.05)(13.0,1.15)(13.3,1.32)(13.9,1.47)(15.1,1.6)(16,1.71)};
\plt{\rfifteen (0,0)}{fl=r22}
\plt{\rfifteenr}{fl=r22}
\plt{\rfifteentop}{fl=r21}
\addplot[fill=r23,draw=none] coordinates {(0,1.38)(.6,1.41)(1.1,1.41)(1.6,1.45)(2.44,1.525)(3.1,1.61)(3.6,1.7)(4.64,1.79)(5.1,1.74)(5.7,1.64)(6.3,1.58)(6.9,1.45)(7.4,1.43)(8.25,1.44)(9.0,1.45)(9.6,1.48)(10.15,1.38)(10.3,1.15)(10.35,.9)(10.3,.72)(10.0,.68)(9.75,.52)(9.3,.3)(8.7,.12)(8.3,0)(1.9,0)(1.7,.13)(1.5,.17)(1.2,.08)(1.0,.03)(.95,0)(.7,0)(.5,.08)(.3,.12)(0,.08)};
\addplot[fill=r23,draw=none] coordinates {(13.12,.516)(13.34,.325)(13.55,.367)(13.77,.577)(14.28,.535)(14.67,.43)(15.58,.451)(15.97,.577)(16,1.31)(15.49,1.31)(14.89,1.268)(14.28,1.226)(13.85,1.143)(13.51,1.017)(13.34,.87)(13.21,.68)};
\plt{\rtwenty}{fl=r24}
\plt{\rtwentyr}{fl=r24}
\addplot[fill=r25,draw=none] coordinates {(0,1.22)(.6,1.27)(1,1.24)(1.6,1.28)(2.5,1.36)(3.1,1.44)(3.7,1.5)(4.68,1.63)(5.1,1.6)(5.7,1.52)(6.4,1.42)(7.1,1.28)(7.8,1.23)(8.25,1.2)(9,1.17)(9.45,1.15)(9.65,1.0)(9.65,.85)(9.4,.55)(9.1,.33)(8.8,.16)(8.4,.07)(8.25,0)(8.0,0)(7.85,.09)(7.6,.11)(7.3,.19)(6.97,.18)(6.7,.09)(6.4,0)(2.35,0)(2.0,.13)(1.75,.3)(1.5,.37)(1.1,.25)(.85,.2)(.73,.1)(.55,.19)(.3,.26)(0,.23)};
\addplot[fill=r25,draw=none] coordinates {(14.8,.702)(14.93,.65)(15.15,.723)(15.41,.996)(15.15,1.069)(14.8,.975)};
\plt{\rtf}{fl=r26}
\addplot[fill=r27,draw=none] coordinates {(0,.38)(.3,.42)(.6,.34)(.75,.33)(1.0,.42)(1.5,.56)(1.85,.43)(2.1,.28)(2.4,.17)(2.7,.1)(3.0,.1)(3.3,.1)(3.55,.08)(3.65,0)(3.9,0)(4.2,.1)(4.4,.14)(4.9,.2)(5.1,.22)(5.5,.1)(5.65,.03)(5.75,0)(5.9,.05)(6.4,.17)(6.8,.24)(7.2,.38)(7.6,.35)(8.0,.24)(8.25,.25)(8.6,.34)(8.9,.5)(9.1,.75)(9.0,.93)(8.6,.94)(8.2,.98)(7.7,1.06)(7,1.17)(6.3,1.27)(5.7,1.37)(4.72,1.49)(4.1,1.38)(3.4,1.25)(2.6,1.15)(1.9,1.07)(1.2,1.0)(.9,.99)(.6,1.04)(0,1.0)};
\plt{\rthirty}{fl=r28}
\plt{\rthirtyb}{fl=r28}
\addplot[fill=r29,draw=none] coordinates {(2.3,.42)(2.6,.22)(3.0,.22)(3.5,.21)(3.73,.13)(4.1,.22)(4.5,.32)(4.9,.31)(5.4,.26)(5.7,.19)(6.2,.3)(6.7,.5)(6.97,.68)(6.85,.89)(6.5,1.03)(6.1,1.12)(5.6,1.2)(5.05,1.27)(4.75,1.3)(4.2,1.18)(3.7,1.05)(3.3,1.05)(2.9,1.0)(2.3,.92)(2.2,.75)(2.15,.6)};
\addplot[fill=r29,draw=none] coordinates {(7.1,.68)(7.35,.68)(7.3,.73)(7.15,.72)};
\plt{\rtfv}{fl=r30}
% contours
\plt{\rzeroL}{cont}\plt{\rzeroR}{cont}\plt{\rzeroT}{cont}\plt{\rzeroTa}{cont}\plt{\rzeroTb}{cont}\plt{\rzeroIa}{cont}\plt{\rzeroIb}{cont}
\plt{\rfive}{cont}\plt{\rfivelone}{cont}\plt{\rten}{cont}\plt{\rtenr}{cont}\plt{\rfifteen}{cont}\plt{\rfifteentop}{cont}\plt{\rfifteenr}{cont}
\plt{\rtwenty}{cont}\plt{\rtwentyr}{cont}\plt{\rtf}{cont}\plt{\rthirty}{cont}\plt{\rthirtyb}{cont}\plt{\rtfv}{cont}
\plt{\rnegT}{neg}\plt{\rnegL}{neg}\plt{\rnegR}{neg}\plt{\rnegC}{neg}\plt{\rtenneg}{neg}
\addplot[neg] coordinates {(4.48,2.58)(4.48,2.63)};
% contour labels
\lb{1.19}{.2}{45}{20}\lb{1.9}{.325}{-55}{25}\lb{3.0}{.1}{0}{25}\lb{4.72}{.086}{50}{25}\lb{5.11}{.38}{-35}{35}
\lb{.95}{.84}{-80}{30}\lb{7.09}{1.017}{-35}{30}\lb{2.83}{1.3}{30}{25}\lb{2.72}{1.49}{10}{20}\lb{7.61}{.069}{10}{20}
\lb{2.83}{1.656}{30}{15}\lb{2.83}{1.834}{30}{10}\lb{5.26}{2.096}{15}{5}\lb{6.49}{2.285}{0}{0}
\lb{.84}{2.174}{-15}{-5}\lb{.72}{2.363}{40}{-10}\lb{9.22}{.126}{-50}{5}\lb{9.87}{.184}{-30}{0}\lb{10.32}{.111}{40}{-5}
\lb{14.63}{.078}{-25}{0}\lb{15.5}{.052}{35}{0}\lb{15.49}{.157}{-30}{5}\lb{14.99}{.258}{0}{10}\lb{15.2}{.681}{70}{20}
\lb{14.84}{1.453}{15}{15}\lb{8.81}{2.47}{-90}{5}\lb{14.5}{2.166}{0}{0}\lb{14.63}{2.694}{-110}{-5}\lb{14.95}{2.893}{0}{0}\lb{15.88}{2.977}{0}{0}
\node[font=\fontsize{8.2pt}{10pt}\selectfont,text=black,opacity=.5,inner sep=0pt,anchor=west] at (axis cs:0,2.81) {weatheriscool.com};
\end{axis}

\begin{axis}[cbar,at={(1085pt,102.8pt)},anchor=south west,width=13pt,height=260pt,ymin=-40,ymax=37.5,clip=false,
  ytick={-40,-30,-20,-10,0,10,20,30},yticklabels={−40,−30,−20,−10,0,10,20,30}]
\seg{-40}{-37.5}{r0}\seg{-37.5}{-35}{r1}\seg{-35}{-32.5}{r2}\seg{-32.5}{-30}{r3}\seg{-30}{-27.5}{r4}\seg{-27.5}{-25}{r5}
\seg{-25}{-22.5}{r6}\seg{-22.5}{-20}{r7}\seg{-20}{-17.5}{r8}\seg{-17.5}{-15}{r9}\seg{-15}{-12.5}{r10}\seg{-12.5}{-10}{r11}
\seg{-10}{-7.5}{r12}\seg{-7.5}{-5}{r13}\seg{-5}{-2.5}{r14}\seg{-2.5}{0}{r15}\seg{0}{2.5}{r16}\seg{2.5}{5}{r17}
\seg{5}{7.5}{r18}\seg{7.5}{10}{r19}\seg{10}{12.5}{r20}\seg{12.5}{15}{r21}\seg{15}{17.5}{r22}\seg{17.5}{20}{r23}
\seg{20}{22.5}{r24}\seg{22.5}{25}{r25}\seg{25}{27.5}{r26}\seg{27.5}{30}{r27}\seg{30}{32.5}{r28}\seg{32.5}{35}{r29}\seg{35}{37.5}{r30}
\addplot[fill=r30,draw=black,line width=.8pt] coordinates {(0,37.5)(.5,41.3)(1,37.5)};
\addplot[fill=r0,draw=black,line width=.8pt] coordinates {(0,-40)(.5,-43.85)(1,-40)};
\addplot[draw=gray,line width=1.5pt] coordinates {(1,-40)(1,37.5)};
\end{axis}
\end{tikzpicture}
\end{document}
